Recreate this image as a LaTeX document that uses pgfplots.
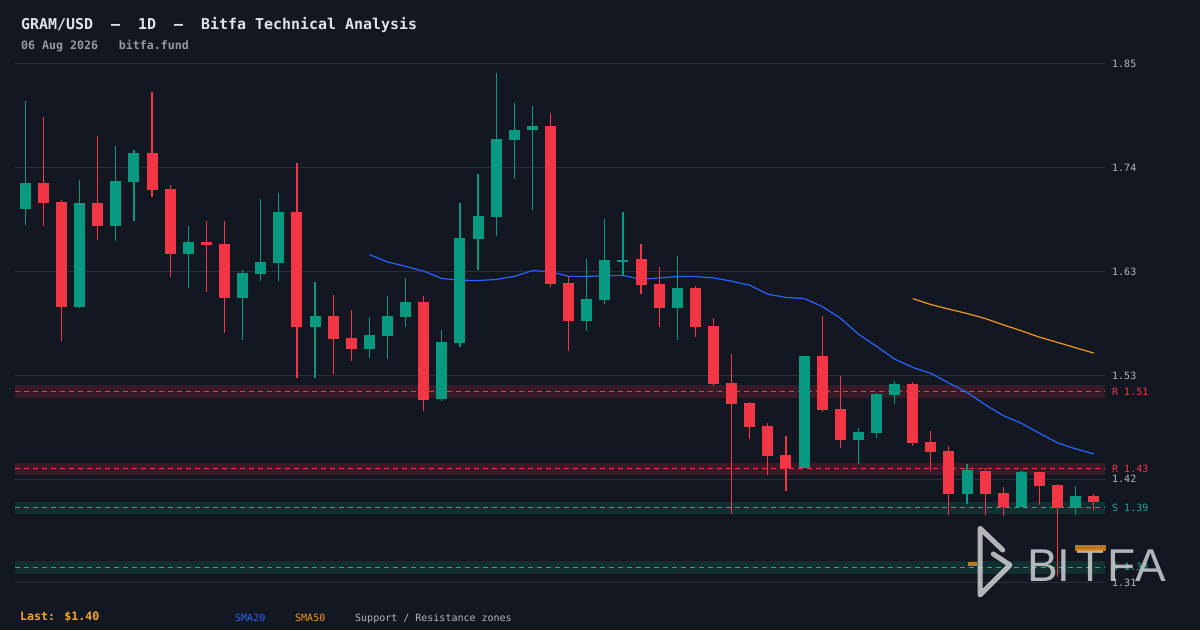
\documentclass[border=0pt]{standalone}
\usepackage{pgfplots}
\usepackage{pgfplotstable}
\pgfplotsset{compat=1.18}
\usepackage{fontspec}
\setmainfont{DejaVu Sans Mono}
\newfontfamily\wmfont{Liberation Sans}
\newcommand\fs[1]{\fontsize{#1}{#1}\selectfont}
\definecolor{bg}{RGB}{19,23,34}
\definecolor{gridc}{RGB}{42,46,57}
\definecolor{grn}{RGB}{8,153,129}
\definecolor{rd}{RGB}{242,54,69}
\definecolor{smab}{RGB}{41,98,255}
\definecolor{smao}{RGB}{240,150,30}
\definecolor{zoneR}{RGB}{57,27,39}
\definecolor{zoneS}{RGB}{18,46,47}
\definecolor{teal}{RGB}{34,171,148}
\definecolor{tickc}{RGB}{178,181,190}
\definecolor{titlec}{RGB}{224,227,235}
\definecolor{subc}{RGB}{149,152,161}
\definecolor{lastc}{RGB}{245,166,35}
\definecolor{wm}{RGB}{214,215,217}
\definecolor{wmo}{RGB}{222,140,30}

\pgfplotstableread{
i o h l c
0 1.701 1.813 1.6845 1.728
3 1.599 1.731 1.598 1.707
5 1.6835 1.767 1.668 1.730
6 1.729 1.762 1.689 1.759
9 1.6544 1.683 1.619 1.6665
12 1.6087 1.6374 1.5651 1.6343
13 1.6336 1.712 1.6264 1.6457
14 1.645 1.7174 1.6264 1.6976
16 1.5786 1.625 1.5257 1.5897
19 1.5558 1.5886 1.5461 1.570
20 1.5693 1.6104 1.5454 1.5897
21 1.589 1.6291 1.5786 1.6042
23 1.5029 1.5752 1.501 1.5627
24 1.562 1.707 1.5579 1.6707
25 1.670 1.7371 1.6378 1.6935
26 1.6928 1.843 1.6731 1.7735
27 1.7728 1.8119 1.7323 1.7838
28 1.7831 1.8087 1.7001 1.787
31 1.5849 1.6489 1.5745 1.6074
32 1.6067 1.6904 1.6025 1.6479
33 1.646 1.6977 1.6316 1.648
36 1.5979 1.6519 1.5651 1.6187
43 1.4319 1.5481 1.4319 1.5481
46 1.4609 1.4734 1.436 1.4692
47 1.4682 1.5097 1.463 1.5087
48 1.5076 1.5222 1.4983 1.519
52 1.4048 1.436 1.3944 1.4297
55 1.3913 1.4297 1.3913 1.4277
58 1.3903 1.4131 1.383 1.4027
}\tabG

\pgfplotstableread{
i o h l c
1 1.728 1.797 1.6835 1.707
2 1.708 1.710 1.564 1.599
4 1.707 1.777 1.669 1.6835
7 1.759 1.823 1.714 1.721
8 1.7216 1.7257 1.6306 1.6544
10 1.6665 1.689 1.615 1.6637
11 1.6644 1.689 1.5724 1.6087
15 1.6976 1.7485 1.5257 1.5786
17 1.5897 1.6115 1.5298 1.5662
18 1.5668 1.5959 1.5433 1.5558
22 1.6042 1.6104 1.4904 1.5028
29 1.787 1.8015 1.6202 1.6233
30 1.624 1.6313 1.5537 1.5849
34 1.6489 1.6645 1.6129 1.6223
35 1.623 1.6406 1.5787 1.5984
37 1.6187 1.6208 1.5678 1.5782
38 1.5793 1.5876 1.5173 1.519
39 1.5201 1.5502 1.3841 1.4983
40 1.4993 1.5004 1.462 1.4744
41 1.4755 1.4786 1.4246 1.4443
42 1.4454 1.4651 1.408 1.4319
44 1.5481 1.5896 1.49 1.4921
45 1.4931 1.5274 1.4526 1.4609
49 1.519 1.5211 1.455 1.4581
50 1.4588 1.4702 1.428 1.4484
51 1.4495 1.4546 1.3823 1.4048
53 1.4287 1.4311 1.3823 1.4048
54 1.4059 1.4121 1.3813 1.3913
56 1.4277 1.4277 1.3934 1.4131
57 1.4142 1.4152 1.318 1.3903
59 1.4027 1.4048 1.3882 1.3965
}\tabR

\begin{document}
\begin{tikzpicture}[x=1pt,y=1pt]
\useasboundingbox (0,0) rectangle (1200,630);
\fill[bg] (0,0) rectangle (1200,630);
\begin{axis}[at={(15pt,40pt)}, anchor=south west, scale only axis,
  width=1090pt, height=530pt,
  xmin=-0.57, xmax=59.62, ymin=1.30465, ymax=1.85616,
  axis line style={draw=none}, clip=false,
  xtick=\empty,
  ytick={1.312,1.420,1.528,1.636,1.744,1.852},
  yticklabels={1.31,1.42,1.53,1.63,1.74,1.85},
  yticklabel pos=right,
  major tick length=0pt,
  every tick/.style={draw=none},
  ymajorgrids, major grid style={draw=gridc, line width=1pt},
  yticklabel style={anchor=west, inner sep=0pt, xshift=7pt, text=tickc, font=\fs{10}},
  /pgf/number format/assume math mode=true,
]
% zones
\addplot[fill=zoneR, draw=none, forget plot] coordinates {(-0.57,1.5045) (59.62,1.5045) (59.62,1.5175) (-0.57,1.5175)} --cycle;
\addplot[fill=zoneR, draw=none, forget plot] coordinates {(-0.57,1.4241) (59.62,1.4241) (59.62,1.4371) (-0.57,1.4371)} --cycle;
\addplot[fill=zoneS, draw=none, forget plot] coordinates {(-0.57,1.3835) (59.62,1.3835) (59.62,1.3965) (-0.57,1.3965)} --cycle;
\addplot[fill=zoneS, draw=none, forget plot] coordinates {(-0.57,1.3218) (59.62,1.3218) (59.62,1.3348) (-0.57,1.3348)} --cycle;
\addplot[rd, line width=1pt, dash pattern=on 5pt off 4pt, forget plot] coordinates {(-0.57,1.511) (59.62,1.511)};
\addplot[rd, line width=1pt, dash pattern=on 5pt off 4pt, forget plot] coordinates {(-0.57,1.4306) (59.62,1.4306)};
\addplot[teal, line width=1pt, dash pattern=on 5pt off 4pt, forget plot] coordinates {(-0.57,1.390) (59.62,1.390)};
\addplot[teal, line width=1pt, dash pattern=on 5pt off 4pt, forget plot] coordinates {(-0.57,1.3283) (59.62,1.3283)};
% SMA20
\addplot[smab, line width=1.2pt, forget plot] coordinates {
(19,1.6537) (20,1.646) (21,1.6414) (22,1.6364) (23,1.6288) (24,1.627) (25,1.6267)
(26,1.6278) (27,1.631) (28,1.637) (29,1.636) (30,1.631) (31,1.631) (32,1.6316)
(33,1.632) (34,1.628) (35,1.6294) (36,1.6308) (37,1.6308) (38,1.6294) (39,1.626)
(40,1.6218) (41,1.6125) (42,1.609) (43,1.608) (44,1.5997) (45,1.5876) (46,1.571)
(47,1.5582) (48,1.545) (49,1.5363) (50,1.5301) (51,1.52) (52,1.5104) (53,1.4976)
(54,1.4861) (55,1.4782) (56,1.4678) (57,1.4578) (58,1.4515) (59,1.4463)};
% SMA50
\addplot[smao, line width=1.2pt, forget plot] coordinates {
(49,1.6079) (50,1.6017) (51,1.5969) (52,1.5924) (53,1.5872) (54,1.5806)
(55,1.5744) (56,1.5678) (57,1.5623) (58,1.5567) (59,1.5512)};
% wicks
\addplot[draw=none, mark=none, forget plot, error bars/.cd, y dir=plus, y explicit, error mark=none,
  error bar style={draw=grn, line width=1.2pt}]
  table[x=i, y=l, y error expr=\thisrow{h}-\thisrow{l}] {\tabG};
\addplot[draw=none, mark=none, forget plot, error bars/.cd, y dir=plus, y explicit, error mark=none,
  error bar style={draw=rd, line width=1.2pt}]
  table[x=i, y=l, y error expr=\thisrow{h}-\thisrow{l}] {\tabR};
% bodies
\addplot[draw=none, mark=none, forget plot, error bars/.cd, y dir=plus, y explicit, error mark=none,
  error bar style={draw=grn, line width=11pt}]
  table[x=i, y=o, y error expr=\thisrow{c}-\thisrow{o}] {\tabG};
\addplot[draw=none, mark=none, forget plot, error bars/.cd, y dir=plus, y explicit, error mark=none,
  error bar style={draw=rd, line width=11pt}]
  table[x=i, y=c, y error expr=\thisrow{o}-\thisrow{c}] {\tabR};
% zone labels
\node[anchor=west, inner sep=0pt, xshift=7pt, text=rd, font=\fs{10}] at (axis cs:59.62,1.511) {R 1.51};
\node[anchor=west, inner sep=0pt, xshift=7pt, text=rd, font=\fs{10}] at (axis cs:59.62,1.4306) {R 1.43};
\node[anchor=west, inner sep=0pt, xshift=7pt, text=teal, font=\fs{10}] at (axis cs:59.62,1.390) {S 1.39};
\node[anchor=west, inner sep=0pt, xshift=7pt, text=teal, font=\fs{10}] at (axis cs:59.62,1.3283) {S 1.33};
\end{axis}
% titles
\node[anchor=base west, inner sep=0pt, text=titlec, font=\bfseries\fs{14.95}] at (21,600.7) {GRAM/USD~~—~~1D~~—~~Bitfa Technical Analysis};
\node[anchor=base west, inner sep=0pt, text=subc, font=\bfseries\fs{11.6}] at (21,580.7) {06 Aug 2026~~~bitfa.fund};
% footer
\node[anchor=base west, inner sep=0pt, text=lastc, font=\bfseries\fs{11.6}] at (20,10) {Last: \$1.40};
\node[anchor=base west, inner sep=0pt, text=smab, font=\fs{10}] at (235,8.7) {SMA20};
\node[anchor=base west, inner sep=0pt, text=smao, font=\fs{10}] at (295,8.7) {SMA50};
\node[anchor=base west, inner sep=0pt, text=tickc, font=\fs{10}] at (355,8.7) {Support / Resistance zones};
% watermark
\begin{scope}[opacity=0.82]
\fill[wmo] (968,64.3) rectangle (977,68.3);
\draw[wm, line width=5pt, line cap=round, line join=round] (1002.7,80) -- (980,101.7) -- (980,35) -- (1010,65) -- (993.3,76);
\node[anchor=base, inner sep=0pt, text=wm, font=\wmfont\fs{46}] at (1042.5,48.3) {B};
\node[anchor=base, inner sep=0pt, text=wm, font=\wmfont\fs{46}] at (1064,48.3) {I};
\node[anchor=base, inner sep=0pt, text=wm, font=\wmfont\fs{46}] at (1090.5,48.3) {T};
\fill[wmo] (1075,79) rectangle (1105.7,85);
\node[anchor=base, inner sep=0pt, text=wm, font=\wmfont\fs{46}] at (1122,48.3) {F};
\node[anchor=base, inner sep=0pt, text=wm, font=\wmfont\fs{46}] at (1150.5,48.3) {A};
\end{scope}
\end{tikzpicture}
\end{document}
